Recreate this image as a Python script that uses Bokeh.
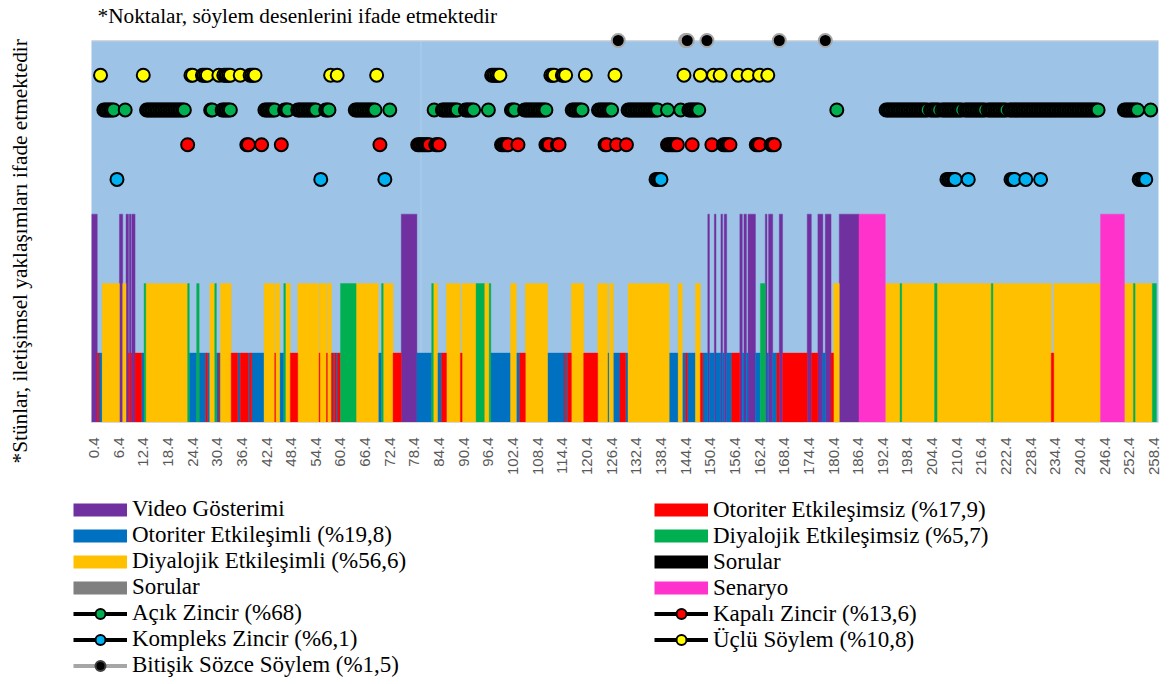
import numpy as np
from bokeh.plotting import figure
from bokeh.layouts import column
from bokeh.models import (Range1d, Legend, LegendItem, Span, FixedTicker, ColumnDataSource, Title, Label)
from bokeh.embed import file_html
from bokeh.resources import INLINE

# ---------------- data ----------------
tick_labels = ["0.4", "6.4", "12.4", "18.4", "24.4", "30.4", "36.4", "42.4", "48.4", "54.4",
               "60.4", "66.4", "72.4", "78.4", "84.4", "90.4", "96.4", "102.4", "108.4", "114.4",
               "120.4", "126.4", "132.4", "138.4", "144.4", "150.4", "156.4", "162.4", "168.4",
               "174.4", "180.4", "186.4", "192.4", "198.4", "204.4", "210.4", "216.4", "222.4",
               "228.4", "234.4", "240.4", "246.4", "252.4", "258.4"]

# communicative approaches (columns): (start, end) time spans
video_gosterimi = [(-0.2, 1.2), (6.6, 7.4), (8.2, 8.8), (9.0, 9.4), (9.6, 10.4), (75.2, 79.0),
                   (149.8, 150.2), (151.4, 151.8), (153.0, 153.4), (153.8, 154.4), (157.6, 158.2),
                   (158.6, 159.2), (159.6, 161.4), (163.8, 164.2), (164.6, 165.6), (167.2, 168.0),
                   (174.0, 175.0), (176.6, 177.8), (178.4, 179.8), (181.8, 186.6)]
otoriter_etkilesimli = [(1.6, 2.4), (12.0, 12.6), (23.6, 25.4), (26.0, 27.6), (28.0, 28.6),
                        (30.2, 30.6), (30.8, 31.2), (35.4, 36.0), (38.0, 38.4), (38.8, 41.8),
                        (45.6, 46.6), (58.6, 59.0), (59.4, 59.8), (69.6, 70.4), (79.0, 82.6),
                        (84.0, 85.0), (97.0, 101.8), (103.2, 104.0), (110.8, 114.8), (115.0, 115.6),
                        (125.4, 125.8), (126.8, 128.4), (129.8, 130.4), (140.4, 142.6), (143.6, 144.4),
                        (144.8, 146.8), (148.6, 149.8), (150.2, 151.4), (151.8, 153.0), (153.4, 153.8),
                        (154.4, 155.6), (158.2, 158.6), (159.2, 159.6), (161.4, 162.6), (164.2, 164.6),
                        (165.6, 166.6), (177.8, 178.4)]
diyalojik_etkilesimli = [(2.4, 6.6), (7.4, 8.2), (13.0, 23.2), (28.6, 29.8), (31.2, 33.8), (41.8, 44.4),
                         (44.6, 45.6), (47.0, 48.2), (50.0, 55.2), (55.4, 57.0), (57.2, 58.2), (64.2, 69.6),
                         (70.8, 73.2), (83.0, 84.0), (86.2, 89.6), (90.0, 93.4), (95.4, 96.6), (101.8, 103.2),
                         (105.4, 110.8), (116.6, 119.6), (123.0, 125.4), (125.8, 126.8), (130.4, 140.4),
                         (142.6, 143.6), (146.8, 148.0), (180.4, 181.8), (193.0, 196.6), (197.0, 205.0),
                         (205.6, 218.8), (219.2, 233.4), (234.0, 245.4), (251.2, 253.4), (253.8, 258.0)]
otoriter_etkilesimsiz = [(1.2, 1.6), (8.8, 9.0), (9.4, 9.6), (10.4, 12.0), (27.6, 28.0), (30.6, 30.8),
                         (33.8, 35.4), (36.0, 38.0), (38.4, 38.8), (44.4, 44.6), (48.2, 50.0), (55.2, 55.4),
                         (57.0, 57.2), (58.2, 58.6), (59.0, 59.4), (59.8, 60.4), (73.2, 75.2), (85.0, 86.2),
                         (89.6, 90.0), (104.0, 105.4), (114.8, 115.0), (115.6, 116.6), (119.6, 123.0),
                         (128.4, 129.8), (144.4, 144.8), (148.0, 148.6), (155.6, 157.6), (166.6, 167.2),
                         (168.0, 174.0), (175.0, 176.6), (179.8, 180.4), (233.4, 234.0)]
diyalojik_etkilesimsiz = [(12.6, 13.0), (23.2, 23.6), (25.4, 26.0), (29.8, 30.2), (46.6, 47.0), (60.4, 64.2),
                          (70.4, 70.8), (82.6, 83.0), (93.4, 95.4), (96.6, 97.0), (162.6, 163.8),
                          (196.6, 197.0), (205.0, 205.6), (218.8, 219.2), (253.4, 253.8), (258.0, 259.0)]
senaryo = [(186.6, 193.0), (245.4, 251.2)]

# column heights of each approach
h_video, h_otoriter, h_diyalojik, h_senaryo = 3, 1, 2, 3

# discourse patterns (points): runs of consecutive 0.4 slots (first, last)
acik_zincir = [(2.8, 5.2), (8.0, 8.0), (13.2, 22.4), (28.8, 29.2), (31.6, 33.6), (42.0, 44.4), (46.8, 47.6),
               (50.0, 54.4), (56.8, 57.6), (64.0, 68.8), (72.4, 72.4), (83.2, 83.2), (85.2, 88.8),
               (90.8, 92.8), (96.4, 96.4), (102.0, 102.8), (105.2, 110.4), (116.8, 119.2), (123.2, 126.4),
               (130.4, 137.6), (140.0, 140.0), (143.2, 143.2), (145.2, 147.6), (181.2, 181.2),
               (193.2, 203.2), (204.0, 206.0), (206.8, 211.6), (212.4, 217.2), (218.0, 222.4),
               (223.2, 244.8), (251.2, 254.4), (257.6, 257.6)]
kapali_zincir = [(23.2, 23.2), (37.6, 38.0), (41.2, 41.2), (46.0, 46.0), (70.0, 70.0), (79.2, 82.0),
                 (83.6, 84.4), (99.6, 101.2), (103.6, 103.6), (110.4, 111.2), (113.2, 113.6), (124.8, 125.2),
                 (127.6, 127.6), (130.0, 130.0), (140.0, 142.4), (146.0, 146.0), (150.8, 150.8),
                 (153.6, 155.2), (161.6, 162.4), (165.2, 166.0)]
kompleks_zincir = [(6.0, 6.0), (55.6, 55.6), (71.2, 71.2), (137.2, 138.4), (208.0, 210.0), (213.2, 213.2),
                   (223.6, 224.4), (227.2, 227.2), (230.8, 230.8), (254.8, 256.4)]
uclu_soylem = [(2.0, 2.0), (12.4, 12.4), (24.0, 24.4), (26.8, 28.0), (30.8, 30.8), (32.0, 33.6), (36.0, 36.0),
               (38.4, 39.6), (58.0, 58.0), (59.6, 59.6), (69.2, 69.2), (97.2, 99.2), (111.6, 112.4),
               (114.4, 115.2), (120.0, 120.0), (127.2, 127.2), (144.0, 144.0), (148.0, 148.0), (151.2, 151.2),
               (152.8, 152.8), (157.2, 157.2), (159.6, 159.6), (162.4, 162.4), (164.4, 164.4)]
bitisik_sozce = [(128.0, 128.0), (144.4, 144.8), (149.6, 149.6), (167.2, 167.2), (178.4, 178.4)]

# plotted levels of the discourse patterns
y_kompleks, y_kapali, y_acik, y_uclu, y_bitisik = 3.5, 4.0, 4.5, 5.0, 5.5
section_break = 80.0
SLOT = 0.4

# ---------------- helpers ----------------
def slots(runs):
    out = []
    for a, b in runs:
        n = int(round((b - a) / SLOT)) + 1
        out.extend(round(a + i * SLOT, 1) for i in range(n))
    return out

def line_xs(runs):
    out = []
    for a, b in runs:
        n = int(round((b - a) / SLOT)) + 1
        out.extend(round(a + i * SLOT, 1) for i in range(n))
        out.append(np.nan)
    return out

def no_align(fig):
    try:
        fig.frame_align = False
    except Exception:
        pass

SERIF = "Liberation Serif"
C_VIDEO, C_OT_ETK, C_DI_ETK, C_GRAY = "#7030A0", "#0070C0", "#FFC000", "#808080"
C_OT_SIZ, C_DI_SIZ, C_BLACK, C_SEN = "#FF0000", "#00B050", "#000000", "#FF33CC"
C_ACIK, C_KAPALI, C_KOMP, C_UCLU = "#00B050", "#FF0000", "#00B0F0", "#FFFF00"
C_BIT_LINE = "#A6A6A6"
W = 1165

# ---------------- top note ----------------
TH = 30
tf = figure(width=W, height=TH, min_border=0, x_range=Range1d(0, 1), y_range=Range1d(0, 1),
            output_backend="svg", toolbar_location=None)
tf.axis.visible = False
tf.grid.visible = False
tf.outline_line_color = None
tf.background_fill_color = "white"
tf.border_fill_color = "white"
no_align(tf)
tf.add_layout(Label(x=97, y=15, x_units="screen", y_units="screen",
                    text="*Noktalar, söylem desenlerini ifade etmektedir",
                    text_font=SERIF, text_font_size="21.3px", text_color="black",
                    text_baseline="alphabetic", text_align="left"))

# ---------------- main figure ----------------
p = figure(width=W, frame_width=1067, frame_height=382, min_border_left=91, min_border_right=7,
           min_border_top=10, min_border_bottom=56,
           x_range=Range1d(-0.2, 259.5), y_range=Range1d(0, 5.5),
           output_backend="svg", toolbar_location=None)
p.background_fill_color = "#9DC3E6"
p.border_fill_color = "white"
p.outline_line_color = None
p.grid.visible = False
no_align(p)

# invisible y axis used only as a spacer between the frame and the left note
yax = p.yaxis[0]
yax.ticker = FixedTicker(ticks=[0])
yax.major_label_overrides = {0: ""}
yax.major_label_text_font_size = "0px"
yax.major_label_standoff = 0
yax.axis_line_color = None
yax.major_tick_line_color = None
yax.minor_tick_line_color = None
yax.major_tick_in = 0
yax.major_tick_out = 53
yax.minor_tick_in = 0
yax.minor_tick_out = 0

p.add_layout(Title(text="*Stünlar, iletişimsel yaklaşımları ifade etmektedir", align="left",
                   vertical_align="top", offset=-41, standoff=10, text_font=SERIF,
                   text_font_size="21.3px", text_font_style="normal", text_color="black"), "left")

p.add_layout(Span(location=section_break, dimension="height", line_color="#AECFEE",
                  line_width=1, level="underlay"))

def bars(spans, h, color):
    src = ColumnDataSource(dict(left=[s for s, e in spans], right=[e for s, e in spans],
                                top=[h] * len(spans)))
    return p.quad(left="left", right="right", bottom=0, top="top", source=src,
                  fill_color=color, line_color=color, line_width=0.4)

bars(video_gosterimi, h_video, C_VIDEO)
bars(otoriter_etkilesimli, h_otoriter, C_OT_ETK)
bars(diyalojik_etkilesimli, h_diyalojik, C_DI_ETK)
bars(otoriter_etkilesimsiz, h_otoriter, C_OT_SIZ)
bars(diyalojik_etkilesimsiz, h_diyalojik, C_DI_SIZ)
bars(senaryo, h_senaryo, C_SEN)

p.add_layout(Span(location=5.5, dimension="width", line_color="#D0D0D0", line_width=2))

def pattern(runs, yv, fill, line_color="black", outline="black", level="glyph"):
    lx = line_xs(runs)
    p.line(x=lx, y=[yv] * len(lx), line_color=line_color, line_width=4, level=level)
    sx = slots(runs)
    p.scatter(x=sx, y=[yv] * len(sx), size=13, marker="circle", fill_color=fill,
              line_color=outline, line_width=2, level=level)

pattern(kompleks_zincir, y_kompleks, C_KOMP)
pattern(kapali_zincir, y_kapali, C_KAPALI)
pattern(acik_zincir, y_acik, C_ACIK)
pattern(uclu_soylem, y_uclu, C_UCLU)
pattern(bitisik_sozce, y_bitisik, "black", line_color=C_BIT_LINE, outline=C_BIT_LINE, level="overlay")

tick_values = [float(s) for s in tick_labels]
ax = p.xaxis[0]
ax.ticker = FixedTicker(ticks=tick_values)
ax.major_label_overrides = {v: s for v, s in zip(tick_values, tick_labels)}
ax.major_label_orientation = np.pi / 2
ax.major_label_text_font = "Liberation Sans"
ax.major_label_text_font_size = "15px"
ax.major_label_text_color = "#595959"
ax.major_label_standoff = 9
ax.axis_line_color = "#D9D9D9"
ax.major_tick_line_color = None
ax.minor_tick_line_color = None

# ---------------- legend figure ----------------
LH = 200
lf = figure(width=W, height=LH, min_border=0, x_range=Range1d(0, 1), y_range=Range1d(0, 1),
            output_backend="svg", toolbar_location=None)
lf.axis.visible = False
lf.grid.visible = False
lf.outline_line_color = None
lf.background_fill_color = "white"
lf.border_fill_color = "white"
no_align(lf)

OFF = [-10.0]  # legend proxies sit outside the visible ranges

def swatch(color):
    return lf.line(x=OFF * 2, y=OFF * 2, line_color=color, line_width=13, line_cap="butt")

def marker_item(fill, line_color="black", outline="black"):
    lr = lf.line(x=OFF * 2, y=OFF * 2, line_color=line_color, line_width=4)
    sr = lf.scatter(x=OFF, y=OFF, size=13, marker="circle", fill_color=fill,
                    line_color=outline, line_width=2)
    return [lr, sr]

leg_style = dict(glyph_width=54, glyph_height=25, spacing=0, padding=0, margin=0,
                 label_standoff=5, label_text_font=SERIF, label_text_font_size="23px",
                 label_text_color="black", border_line_color=None, background_fill_alpha=0)

left_items = [
    LegendItem(label="Video Gösterimi", renderers=[swatch(C_VIDEO)]),
    LegendItem(label="Otoriter Etkileşimli (%19,8)", renderers=[swatch(C_OT_ETK)]),
    LegendItem(label="Diyalojik Etkileşimli (%56,6)", renderers=[swatch(C_DI_ETK)]),
    LegendItem(label="Sorular", renderers=[swatch(C_GRAY)]),
    LegendItem(label="Açık Zincir (%68)", renderers=marker_item(C_ACIK)),
    LegendItem(label="Kompleks Zincir (%6,1)", renderers=marker_item(C_KOMP)),
    LegendItem(label="Bitişik Sözce Söylem (%1,5)",
               renderers=marker_item("black", line_color=C_BIT_LINE, outline="#404040")),
]
right_items = [
    LegendItem(label="Otoriter Etkileşimsiz (%17,9)", renderers=[swatch(C_OT_SIZ)]),
    LegendItem(label="Diyalojik Etkileşimsiz (%5,7)", renderers=[swatch(C_DI_SIZ)]),
    LegendItem(label="Sorular", renderers=[swatch(C_BLACK)]),
    LegendItem(label="Senaryo", renderers=[swatch(C_SEN)]),
    LegendItem(label="Kapalı Zincir (%13,6)", renderers=marker_item(C_KAPALI)),
    LegendItem(label="Üçlü Söylem (%10,8)", renderers=marker_item(C_UCLU)),
]
lf.add_layout(Legend(items=left_items, location=(73, 0), **leg_style))
lf.add_layout(Legend(items=right_items, location=(654, 25.5), **leg_style))

layout = column(tf, p, lf, spacing=0)
open("out.html", "w").write(file_html(layout, INLINE))
